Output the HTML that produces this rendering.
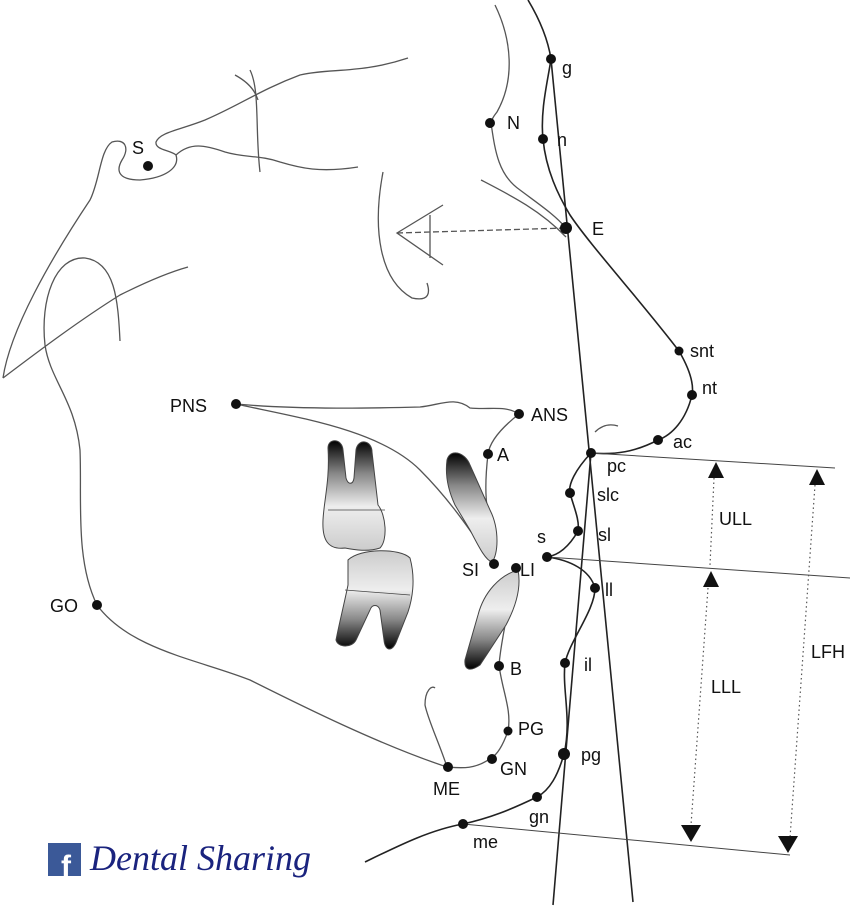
<!DOCTYPE html>
<html><head><meta charset="utf-8"><style>
body{margin:0;background:#fff;}
svg{display:block;}
text{font-family:"Liberation Sans",Arial,sans-serif;font-size:18px;fill:#111;}
</style></head><body>
<svg width="850" height="908" viewBox="0 0 850 908" xmlns="http://www.w3.org/2000/svg">
<defs>
<linearGradient id="gu" x1="0" y1="0" x2="0" y2="1"><stop offset="0" stop-color="#000"/><stop offset="0.3" stop-color="#888"/><stop offset="0.6" stop-color="#eee"/><stop offset="1" stop-color="#ccc"/></linearGradient>
<linearGradient id="gl" x1="0" y1="1" x2="0" y2="0"><stop offset="0" stop-color="#000"/><stop offset="0.3" stop-color="#888"/><stop offset="0.6" stop-color="#eee"/><stop offset="1" stop-color="#ccc"/></linearGradient>
</defs>
<g fill="none" stroke="#555" stroke-width="1.3">
<path d="M3,378 C10,330 50,260 90,200 C100,180 100,150 112,142 C125,138 130,148 122,160 C115,172 120,180 140,180 C165,178 180,168 176,155 C170,150 155,150 156,142 C160,132 180,130 205,120 C240,105 260,90 300,75 C330,68 360,74 408,58"/>
<path d="M176,155 C190,142 205,145 225,152 C245,158 260,155 280,162 C300,168 320,173 358,167"/>
<path d="M250,70 C260,90 255,130 260,172"/><path d="M235,75 C248,82 255,90 258,100"/>
<path d="M3,378 C40,350 80,320 120,295 C150,280 170,272 188,267"/>
<path d="M120,341 C118,300 115,262 85,258 C55,256 40,300 45,345 C50,380 75,400 80,450 C82,500 75,560 97,605 C130,650 200,660 250,680 C300,705 380,745 447,767"/>
<path d="M383,172 C372,230 380,280 412,298 C430,302 430,292 427,283"/>
<path d="M443,205 L397,233 L443,265 M430,215 L430,258"/>
<path d="M397,233 L566,228" stroke-dasharray="6,3"/>
<path d="M495,5 C512,40 515,80 497,112 C492,118 491,122 491,123 C495,150 498,175 520,190 C540,205 555,215 566,228"/>
<path d="M481,180 C510,195 540,210 566,237"/>
<path d="M236,404 C300,410 380,408 420,407 C440,405 455,396 470,408 C490,410 505,405 519,414"/>
<path d="M236,404 C300,418 380,430 420,470 C450,500 470,530 492,562"/>
<path d="M519,414 C505,425 490,440 488,454 C485,480 485,505 490,520"/>
<path d="M515,568 C512,600 502,630 499,665 C502,690 512,710 508,731 C503,745 497,755 491,758 C475,770 460,768 447,767 C440,745 428,720 425,705 C425,690 432,685 435,688"/>
<path d="M595,432 Q605,422 618,426"/>
</g>
<g stroke="#444" stroke-width="1">
<path d="M328,448 C328,438 342,438 343,450 L346,478 C348,485 353,485 354,478 L356,450 C358,438 372,440 372,452 L378,505 C386,515 388,540 380,548 C368,552 355,550 345,548 C328,550 322,540 323,520 C324,500 330,480 328,448Z" fill="url(#gu)"/>
<path d="M328,510 L385,510" stroke-width="0.8" fill="none"/>
<path d="M348,560 C360,548 400,548 410,558 C416,580 412,600 408,612 L397,640 C393,652 385,652 384,640 L380,610 C378,604 372,604 370,610 L356,640 C352,648 338,648 336,640 C340,620 345,600 348,585 Z" fill="url(#gl)"/>
<path d="M345,590 L410,595" stroke-width="0.8" fill="none"/>
<path d="M447,460 C450,448 465,452 470,465 L490,510 C500,530 498,555 492,562 C485,560 478,545 470,530 L455,505 C448,490 445,475 447,460Z" fill="url(#gu)"/>
<path d="M518,570 C522,590 514,610 506,625 L480,665 C470,672 464,670 465,660 L478,615 C484,592 500,575 518,570Z" fill="url(#gl)"/>
</g>
<g fill="none" stroke="#222" stroke-width="1.6">
<path d="M528,0 C540,20 548,40 551,59 C548,80 540,110 543,139 C546,170 558,195 570,215 C590,245 640,300 679,351 C690,370 694,385 692,395 C686,420 672,435 658,440 C635,452 615,455 591,453 C575,470 568,485 570,493 C573,505 580,520 578,531 C570,545 560,555 547,557 C570,560 590,570 595,588 C595,610 570,640 565,663 C562,690 572,720 564,754 C558,775 550,790 537,797 C510,810 490,818 463,824 C430,830 400,845 365,862"/>
<path d="M551,59 L633,902"/>
<path d="M591,453 L553,905"/>
</g>
<g fill="none" stroke="#444" stroke-width="1">
<path d="M591,453 L835,468"/><path d="M547,557 L850,578"/><path d="M463,824 L790,855"/>
</g>
<g fill="none" stroke="#555" stroke-width="1.2" stroke-dasharray="1.5,3">
<path d="M714,478 L710,565"/><path d="M708,588 L691,825"/><path d="M815,485 L790,838"/>
</g>
<g fill="#111">
<path d="M716,462 L708,478 L724,478Z"/><path d="M711,571 L703,587 L719,587Z"/><path d="M817,469 L809,485 L825,485Z"/>
<path d="M681,825 L701,825 L691,842Z"/><path d="M778,836 L798,836 L788,853Z"/>
<circle cx="148" cy="166" r="5"/><circle cx="551" cy="59" r="5"/><circle cx="490" cy="123" r="5"/><circle cx="543" cy="139" r="5"/><circle cx="566" cy="228" r="6"/>
<circle cx="679" cy="351" r="4.5"/><circle cx="692" cy="395" r="5"/><circle cx="658" cy="440" r="5"/><circle cx="591" cy="453" r="5"/>
<circle cx="236" cy="404" r="5"/><circle cx="519" cy="414" r="5"/><circle cx="488" cy="454" r="5"/>
<circle cx="570" cy="493" r="5"/><circle cx="578" cy="531" r="5"/><circle cx="547" cy="557" r="5"/><circle cx="494" cy="564" r="5"/><circle cx="516" cy="568" r="5"/>
<circle cx="595" cy="588" r="5"/><circle cx="97" cy="605" r="5"/><circle cx="565" cy="663" r="5"/><circle cx="499" cy="666" r="5"/>
<circle cx="508" cy="731" r="4.5"/><circle cx="492" cy="759" r="5"/><circle cx="448" cy="767" r="5"/><circle cx="564" cy="754" r="6"/>
<circle cx="537" cy="797" r="5"/><circle cx="463" cy="824" r="5"/>
</g>
<text x="132" y="154">S</text><text x="562" y="74">g</text><text x="507" y="129">N</text><text x="557" y="146">n</text><text x="592" y="235">E</text>
<text x="690" y="357">snt</text><text x="702" y="394">nt</text><text x="673" y="448">ac</text><text x="607" y="472">pc</text>
<text x="170" y="412">PNS</text><text x="531" y="421">ANS</text><text x="497" y="461">A</text>
<text x="597" y="501">slc</text><text x="598" y="541">sl</text><text x="537" y="543">s</text>
<text x="462" y="576">SI</text><text x="520" y="576">LI</text><text x="605" y="596">ll</text>
<text x="50" y="612">GO</text><text x="584" y="671">il</text><text x="510" y="675">B</text>
<text x="518" y="735">PG</text><text x="500" y="775">GN</text><text x="433" y="795">ME</text>
<text x="581" y="761">pg</text><text x="529" y="823">gn</text><text x="473" y="848">me</text>
<text x="719" y="525">ULL</text><text x="711" y="693">LLL</text><text x="811" y="658">LFH</text>
<rect x="48" y="843" width="33" height="33" fill="#3b5998"/>
<text x="61" y="876" style="font-size:30px;font-weight:bold;fill:#fff">f</text>
<text x="90" y="870" style="font-family:'Liberation Serif',serif;font-style:italic;font-size:36px;fill:#1a237e">Dental Sharing</text>
</svg>
</body></html>
